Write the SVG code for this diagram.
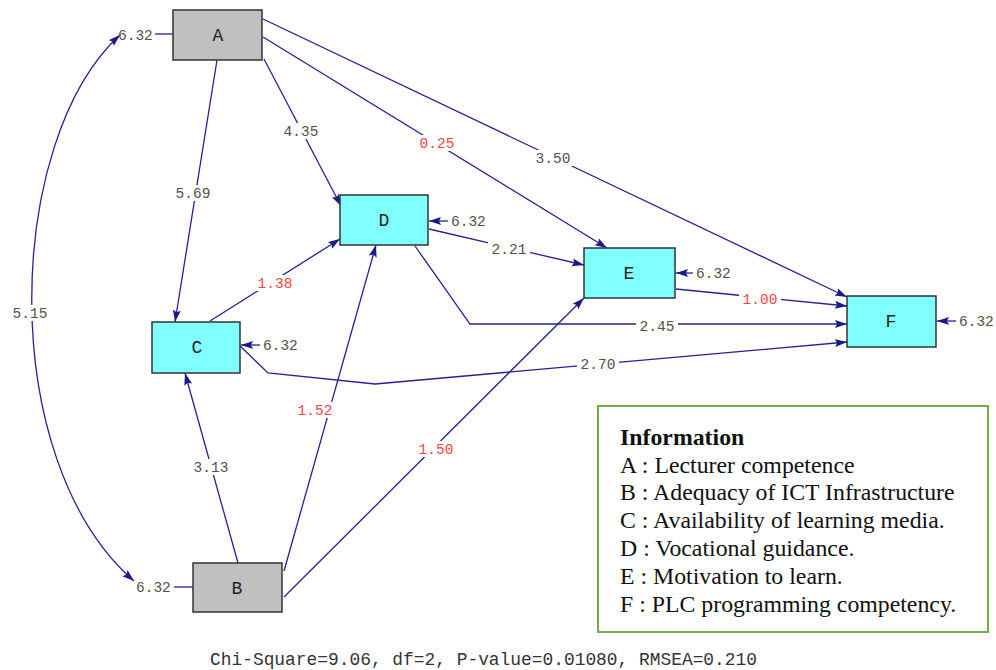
<svg xmlns="http://www.w3.org/2000/svg" width="996" height="670" viewBox="0 0 996 670">
  <style>
    .box { stroke: #333; stroke-width: 1.5; }
    .exo { fill: #c0c0c0; }
    .endo { fill: #80ffff; }
    .nlab { font-family: "Liberation Mono", "DejaVu Sans Mono", monospace; font-size: 18px; fill: #222; text-anchor: middle; }
    .edge { fill: none; stroke: #22229a; stroke-width: 1.3; }
    .num { font-family: "Liberation Mono", "DejaVu Sans Mono", monospace; font-size: 14.5px; fill: #55504a; }
    .plab { font-family: "Liberation Mono", "DejaVu Sans Mono", monospace; font-size: 14.5px; fill: #55504a; text-anchor: middle; }
    .bg { fill: #fff; }
    .red { fill: #ff4444; }
    .info { font-family: "Liberation Serif", "Times New Roman", serif; font-size: 23.8px; fill: #111; }
  </style>
  <defs>
    <marker id="arr" markerUnits="userSpaceOnUse" markerWidth="14" markerHeight="10" refX="12" refY="4" orient="auto-start-reverse">
      <path d="M0,0 L12,4 L0,8 L2,4 z" fill="#1a1a8a"/>
    </marker>
  </defs>

  <!-- structural paths -->
  <g id="connectors">
    <path class="edge" d="M120,35 C5,140 -5,460 134,581" marker-start="url(#arr)" marker-end="url(#arr)"/>
    <line class="edge" x1="217" y1="60" x2="175" y2="322" marker-end="url(#arr)"/>
    <line class="edge" x1="264" y1="59" x2="341" y2="206" marker-end="url(#arr)"/>
    <line class="edge" x1="263" y1="37" x2="607" y2="248" marker-end="url(#arr)"/>
    <line class="edge" x1="263" y1="19" x2="847" y2="297" marker-end="url(#arr)"/>
    <line class="edge" x1="429" y1="229" x2="584" y2="265" marker-end="url(#arr)"/>
    <polyline class="edge" points="415,246 470,324 847,324" marker-end="url(#arr)"/>
    <line class="edge" x1="676" y1="289" x2="847" y2="306" marker-end="url(#arr)"/>
    <polyline class="edge" points="240,346 268,373 375,384 847,342" marker-end="url(#arr)"/>
    <line class="edge" x1="210" y1="321" x2="340" y2="239" marker-end="url(#arr)"/>
    <line class="edge" x1="238" y1="563" x2="185" y2="373" marker-end="url(#arr)"/>
    <line class="edge" x1="284" y1="571" x2="376" y2="245" marker-end="url(#arr)"/>
    <line class="edge" x1="284" y1="597" x2="584" y2="298" marker-end="url(#arr)"/>

    <!-- error terms -->
    <line class="edge" x1="155" y1="34" x2="173" y2="34"/>
    <line class="edge" x1="174" y1="587" x2="193" y2="587"/>
    <line class="edge" x1="448" y1="221" x2="429" y2="221" marker-end="url(#arr)"/>
    <line class="edge" x1="693" y1="273" x2="676" y2="273" marker-end="url(#arr)"/>
    <line class="edge" x1="956" y1="321" x2="937" y2="321" marker-end="url(#arr)"/>
    <line class="edge" x1="260" y1="345" x2="241" y2="345" marker-end="url(#arr)"/>

    <!-- path coefficients, each on a white patch that breaks its line -->
    <rect class="bg" x="172" y="185" width="42" height="16"/>
    <text class="plab" x="193" y="198">5.69</text>
    <rect class="bg" x="280" y="123" width="42" height="16"/>
    <text class="plab" x="301" y="136">4.35</text>
    <rect class="bg" x="416" y="135" width="42" height="16"/>
    <text class="plab red" x="437" y="148">0.25</text>
    <rect class="bg" x="532" y="150" width="42" height="16"/>
    <text class="plab" x="553" y="163">3.50</text>
    <rect class="bg" x="488" y="241" width="42" height="16"/>
    <text class="plab" x="509" y="254">2.21</text>
    <rect class="bg" x="254" y="275" width="42" height="16"/>
    <text class="plab red" x="275" y="288">1.38</text>
    <rect class="bg" x="636" y="318" width="42" height="16"/>
    <text class="plab" x="657" y="331">2.45</text>
    <rect class="bg" x="739" y="291" width="42" height="16"/>
    <text class="plab red" x="760" y="304">1.00</text>
    <rect class="bg" x="577" y="356" width="42" height="16"/>
    <text class="plab" x="598" y="369">2.70</text>
    <rect class="bg" x="294" y="402" width="42" height="16"/>
    <text class="plab red" x="315" y="415">1.52</text>
    <rect class="bg" x="190" y="459" width="42" height="16"/>
    <text class="plab" x="211" y="472">3.13</text>
    <rect class="bg" x="415" y="441" width="42" height="16"/>
    <text class="plab red" x="436" y="454">1.50</text>
    <rect class="bg" x="9" y="305" width="42" height="16"/>
    <text class="plab" x="30" y="318">5.15</text>
  </g>

  <!-- variables -->
  <g id="node-A">
    <rect class="box exo" x="173" y="10" width="89" height="50"/>
    <text class="nlab" x="218" y="41">A</text>
    <text class="num" x="118" y="40">6.32</text>
  </g>
  <g id="node-B">
    <rect class="box exo" x="193" y="563" width="89" height="49"/>
    <text class="nlab" x="237" y="594">B</text>
    <text class="num" x="136" y="592">6.32</text>
  </g>
  <g id="node-C">
    <rect class="box endo" x="152" y="322" width="88" height="51"/>
    <text class="nlab" x="197" y="353">C</text>
    <text class="num" x="263" y="350">6.32</text>
  </g>
  <g id="node-D">
    <rect class="box endo" x="340" y="195" width="88" height="50"/>
    <text class="nlab" x="384" y="226">D</text>
    <text class="num" x="451" y="226">6.32</text>
  </g>
  <g id="node-E">
    <rect class="box endo" x="584" y="248" width="91" height="50"/>
    <text class="nlab" x="629" y="279">E</text>
    <text class="num" x="696" y="278">6.32</text>
  </g>
  <g id="node-F">
    <rect class="box endo" x="847" y="296" width="89" height="51"/>
    <text class="nlab" x="891" y="327">F</text>
    <text class="num" x="959" y="326">6.32</text>
  </g>

  <!-- legend -->
  <g id="legend">
    <rect x="598" y="406" width="390" height="226" fill="#fff" stroke="#70ad47" stroke-width="2"/>
    <text class="info" x="620" y="445" font-weight="bold">Information</text>
    <text class="info" x="620" y="473">A : Lecturer competence</text>
    <text class="info" x="620" y="500">B : Adequacy of ICT Infrastructure</text>
    <text class="info" x="620" y="528">C : Availability of learning media.</text>
    <text class="info" x="620" y="556">D : Vocational guidance.</text>
    <text class="info" x="620" y="584">E : Motivation to learn.</text>
    <text class="info" x="620" y="612">F : PLC programming competency.</text>
  </g>

  <!-- fit statistics -->
  <text x="210" y="665" font-family="Liberation Mono, DejaVu Sans Mono, monospace" font-size="17.5" fill="#333" textLength="547" lengthAdjust="spacingAndGlyphs">Chi-Square=9.06, df=2, P-value=0.01080, RMSEA=0.210</text>
</svg>
